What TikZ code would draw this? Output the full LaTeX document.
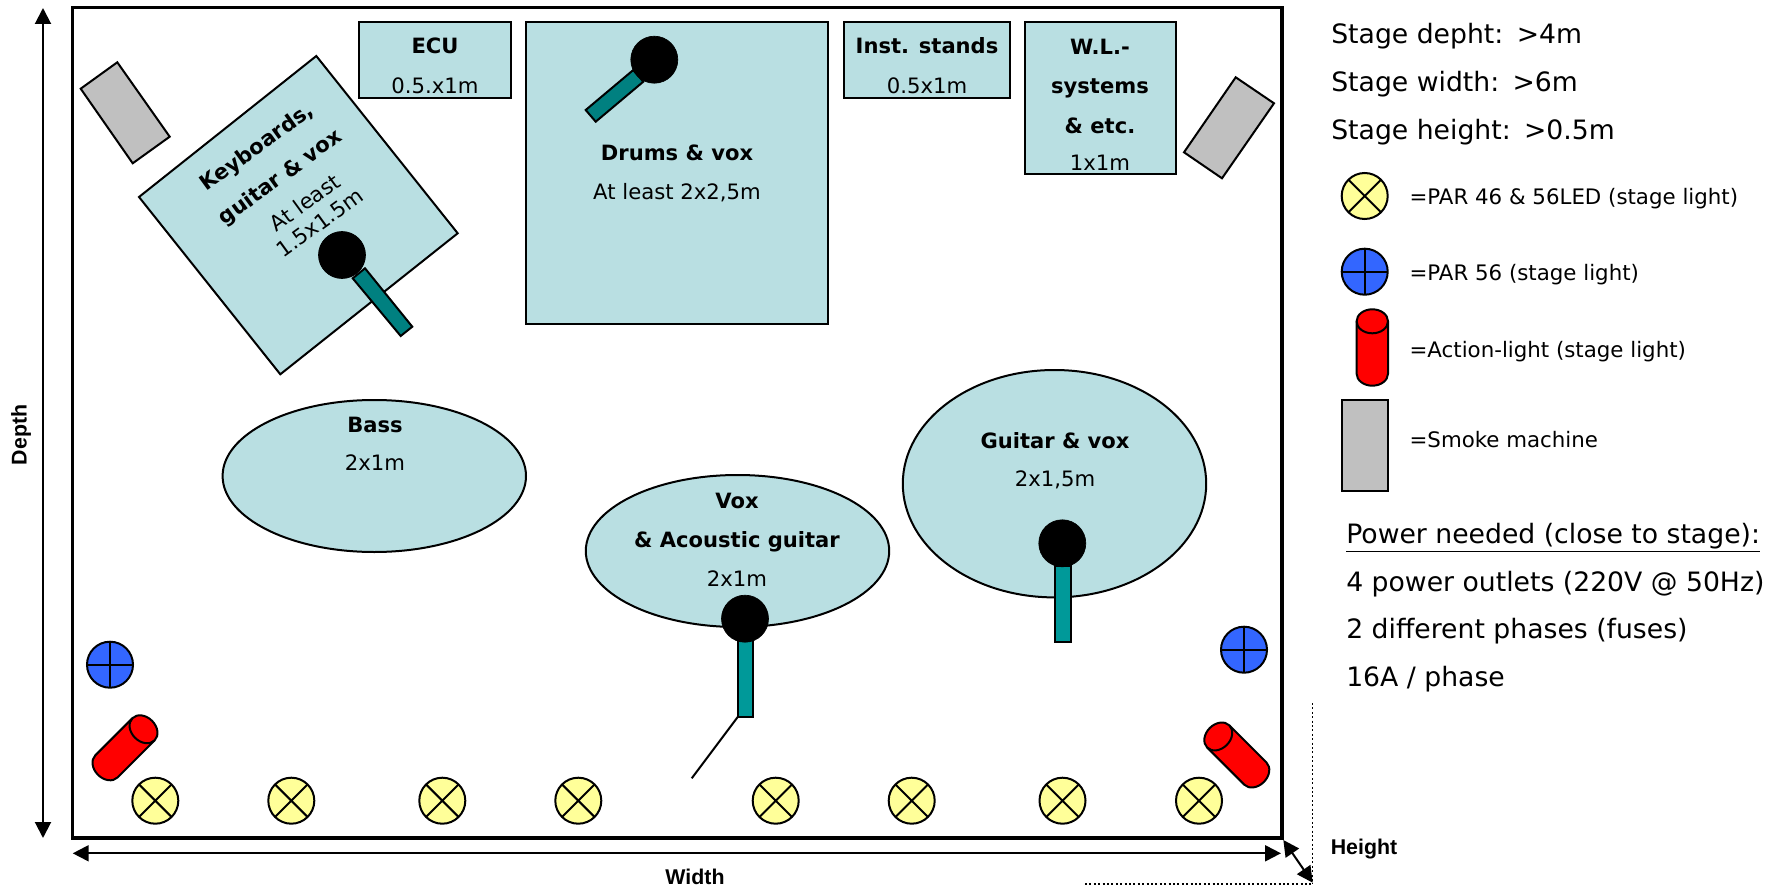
\documentclass[tikz,border=0pt]{standalone}
\usepackage{fontspec}
\setmainfont{DejaVu Sans}
\newfontfamily\labelfont{Liberation Sans}
\usetikzlibrary{arrows.meta}
\definecolor{zone}{HTML}{B9DFE2}
\definecolor{parY}{HTML}{FFFF99}
\definecolor{parB}{HTML}{3366FF}
\definecolor{smokeG}{HTML}{C0C0C0}
\definecolor{micA}{HTML}{008080}
\definecolor{micB}{HTML}{009999}
\tikzset{
  x=0.75pt,y=-0.75pt,
  ln/.style={draw=black,line width=1.5pt,line join=miter},
  zonebox/.style={ln,fill=zone},
  smokebox/.style={ln,fill=smokeG},
  micstick/.style={ln,fill=#1},
  micball/.style={draw=black,line width=0.5pt,fill=black},
  ttl/.style={anchor=mid,inner sep=0pt,yshift=-3.4pt,font=\fontsize{15.8}{18}\selectfont\bfseries},
  szt/.style={anchor=mid,inner sep=0pt,yshift=-3.4pt,font=\fontsize{15.9}{18}\selectfont},
  side/.style={anchor=mid west,inner sep=0pt,yshift=-4.4pt,font=\fontsize{20}{24}\selectfont},
  leg/.style={anchor=base west,inner sep=0pt,yshift=-0.7pt,font=\fontsize{16}{20}\selectfont},
  dim/.style={anchor=mid,inner sep=0pt,font=\fontsize{16}{20}\selectfont\labelfont\bfseries},
  dimarrow/.style={draw=black,line width=1.5pt,{Triangle[length=12pt,width=12pt]}-{Triangle[length=12pt,width=12pt]}},
  dots/.style={draw=black,line width=1.2pt,dash pattern=on 1.5pt off 1.8pt},
  pics/parx/.style={code={
    \draw[ln,fill=parY] (0,0) circle[radius=23];
    \draw[ln] (-16.3,-16.3) -- (16.3,16.3) (-16.3,16.3) -- (16.3,-16.3);}},
  pics/parp/.style={code={
    \draw[ln,fill=parB] (0,0) circle[radius=23];
    \draw[ln] (-23,0) -- (23,0) (0,-23) -- (0,23);}},
  pics/cyl/.style={code={
    \draw[ln,fill=red] (-15.7,-26.2) -- (-15.7,26.2) .. controls (-15.7,32.8) and (-8.7,38.2) .. (0,38.2) .. controls (8.7,38.2) and (15.7,32.8) .. (15.7,26.2) -- (15.7,-26.2) .. controls (15.7,-32.8) and (8.7,-38.2) .. (0,-38.2) .. controls (-8.7,-38.2) and (-15.7,-32.8) .. (-15.7,-26.2) -- cycle;
    \draw[ln] (-15.7,-26.2) .. controls (-15.7,-19.6) and (-8.7,-14.2) .. (0,-14.2) .. controls (8.7,-14.2) and (15.7,-19.6) .. (15.7,-26.2);}},
}
\begin{document}
\begin{tikzpicture}
\useasboundingbox (0,0) rectangle (1781,888);
% stage
\draw[draw=black,line width=2.7pt] (72.5,7.5) rectangle (1282,838);
% zones
\draw[zonebox] (359,22) rectangle (510.7,98);
\draw[zonebox] (525.7,22) rectangle (828,324);
\draw[zonebox] (844,22) rectangle (1010,98);
\draw[zonebox] (1024.5,22) rectangle (1175.5,174);
\draw[zonebox] (316.3,56) -- (457.7,233.3) -- (280.3,374.3) -- (139,197) -- cycle;
\draw[zonebox] (374.3,476) ellipse[x radius=151.7,y radius=76];
\draw[zonebox] (737.5,551) ellipse[x radius=151.7,y radius=76];
\draw[zonebox] (1054.5,483.7) ellipse[x radius=151.7,y radius=113.7];
% smoke machines
\draw[smokebox] (117.3,62.3) -- (169.7,136.7) -- (132.7,163.3) -- (80.7,88.7) -- cycle;
\draw[smokebox] (1235.7,77.3) -- (1274,103.3) -- (1222,178.3) -- (1184,152.3) -- cycle;
\draw[smokebox] (1341.7,400) rectangle (1388,490.7);
% microphones
\draw[micstick=micA] (365,268.3) -- (412.3,326.7) -- (400.7,336) -- (352.7,278.3) -- cycle;
\draw[micball] (342,255) circle[radius=23.5];
\draw[micstick=micA] (633.3,70) -- (643.3,81.7) -- (595.7,121.7) -- (585.7,110) -- cycle;
\draw[micball] (654.3,59.7) circle[radius=23.5];
\draw[micstick=micB] (737.7,640) rectangle (753,717);
\draw[ln] (737.7,717) -- (691.7,778.3);
\draw[micball] (745,618.7) circle[radius=23.5];
\draw[micstick=micB] (1055,566) rectangle (1070.7,642.3);
\draw[micball] (1062.3,543.3) circle[radius=23.5];
% lights
\pic at (155.3,800.7) {parx};
\pic at (291.3,800.7) {parx};
\pic at (442.3,800.7) {parx};
\pic at (578.3,800.7) {parx};
\pic at (775.7,800.7) {parx};
\pic at (911.7,800.7) {parx};
\pic at (1062.5,800.7) {parx};
\pic at (1199,800.7) {parx};
\pic at (110,664.7) {parp};
\pic at (1244,649.7) {parp};
\pic[rotate=-45] at (125,747.8) {cyl};
\pic[rotate=45] at (1236.8,755) {cyl};
% legend symbols
\pic at (1364.7,196) {parx};
\pic at (1364.7,271.7) {parp};
\pic at (1372.3,347.5) {cyl};
% zone texts
\node[ttl] (ecuT) at (435,45.7) {ECU};
\node[szt] (ecuS) at (435,85) {0.5.x1m};
\node[ttl] (drT) at (677,152) {Drums \& vox};
\node[szt] (drS) at (677,191) {At least 2x2,5m};
\node[ttl] (inT) at (927,45.7) {Inst. stands};
\node[szt] (inS) at (927,85) {0.5x1m};
\node[ttl] (wlA) at (1100,46) {W.L.-};
\node[ttl] (wlB) at (1100,85) {systems};
\node[ttl] (wlC) at (1100,125) {\& etc.};
\node[szt] (wlD) at (1100,162) {1x1m};
\node[ttl,rotate=36,xshift=2pt] (kbA) at (256.7,146.7) {Keyboards,};
\node[ttl,rotate=36,xshift=2pt] (kbB) at (280,176.7) {guitar \& vox};
\node[szt,rotate=36,xshift=2pt] (kbC) at (305,203) {At least};
\node[szt,rotate=36,xshift=2pt] (kbD) at (320,223) {1.5x1.5m};
\node[ttl] (baT) at (375,424) {Bass};
\node[szt] (baS) at (375,462) {2x1m};
\node[ttl] (voA) at (737,500) {Vox};
\node[ttl] (voB) at (737,539.5) {\& Acoustic guitar};
\node[szt] (voS) at (737,578) {2x1m};
\node[ttl] (guT) at (1055,440) {Guitar \& vox};
\node[szt] (guS) at (1055,478) {2x1,5m};
% side texts
\node[side] (s1) at (1331,34) {Stage depht:\hspace{0.5em}>4m};
\node[side] (s2) at (1331,82) {Stage width:\hspace{0.5em}>6m};
\node[side] (s3) at (1331,130) {Stage height:\hspace{0.5em}>0.5m};
\node[leg] (l1) at (1409.3,204) {=PAR 46 \& 56LED (stage light)};
\node[leg] (l2) at (1409.3,280) {=PAR 56 (stage light)};
\node[leg] (l3) at (1409.3,356.7) {=Action-light (stage light)};
\node[leg] (l4) at (1409.3,446.7) {=Smoke machine};
\node[side] (p0) at (1346,534) {\underline{Power needed (close to stage):}};
\node[side] (p1) at (1346,581.5) {4 power outlets (220V @ 50Hz)};
\node[side] (p2) at (1346,629) {2 different phases (fuses)};
\node[side] (p3) at (1346,677) {16A / phase};
% dimensions
\coordinate (dT) at (43,8);
\coordinate (dB) at (43,838);
\coordinate (wL) at (72.7,853.3);
\coordinate (wR) at (1281,853.3);
\coordinate (hA) at (1283.3,840);
\coordinate (hB) at (1312.7,882.7);
\coordinate (vTop) at (1312.3,703);
\coordinate (vBot) at (1312.3,884);
\coordinate (hL) at (1085,884);
\draw[dimarrow] (dT) -- (dB);
\draw[dimarrow] (wL) -- (wR);
\draw[dimarrow] (hA) -- (hB);
\draw[dots] (vTop) -- (vBot);
\draw[dots] (hL) -- (vBot);
\node[dim,rotate=90] (dN) at (23,435) {Depth};
\node[dim] (wN) at (695,880.5) {Width};
\node[dim] (hN) at (1364,850.5) {Height};
\end{tikzpicture}
\end{document}
